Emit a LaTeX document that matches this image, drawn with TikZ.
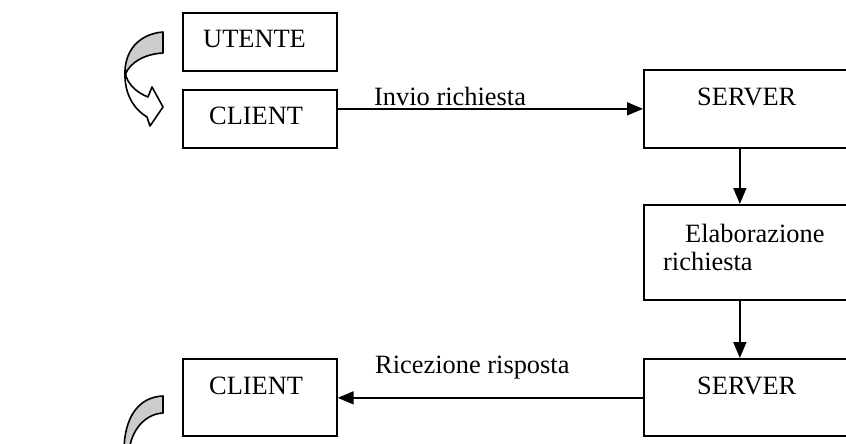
\documentclass[tikz,border=0pt]{standalone}
\usepackage{fontspec}
\setmainfont{Liberation Serif}
\usetikzlibrary{arrows.meta}
\begin{document}
\begin{tikzpicture}[x=1pt,y=-1pt,
  box/.style={draw,line width=1.7pt,anchor=north west,inner sep=0pt},
  lbl/.style={anchor=base west,inner sep=0pt,font=\fontsize{26.4}{30}\selectfont},
  conn/.style={line width=1.6pt,-{Triangle[length=16pt,width=13pt]}},
  bent/.style={line width=1.6pt,line join=round}]
\useasboundingbox (0,0) rectangle (846,444);
\clip (0,0) rectangle (846,444);
% boxes
\node[box,minimum width=154pt,minimum height=58pt] (utente) at (182,12) {};
\node[box,minimum width=154pt,minimum height=58pt] (client1) at (182,89) {};
\node[box,minimum width=217pt,minimum height=78pt] (server1) at (643,69) {};
\node[box,minimum width=217pt,minimum height=95pt] (elab) at (643,204) {};
\node[box,minimum width=217pt,minimum height=77pt] (server2) at (643,358) {};
\node[box,minimum width=154pt,minimum height=77pt] (client2) at (182,358) {};
% texts
\node[lbl] (tutente) at (203,48) {UTENTE};
\node[lbl] (tclient1) at (209,124) {CLIENT};
\node[lbl] (tserver1) at (697,106) {SERVER};
\node[lbl] (telab1) at (685,242) {Elaborazione};
\node[lbl] (telab2) at (663,270) {richiesta};
\node[lbl] (tserver2) at (697,394) {SERVER};
\node[lbl] (tclient2) at (209,394) {CLIENT};
\node[lbl] (tinvio) at (374,105) {Invio richiesta};
\node[lbl] (tricez) at (375,373) {Ricezione risposta};
% connectors
\draw[conn] (client1.east |- server1.west) -- (server1.west);
\draw[conn] ([xshift=-12.5pt]server1.south) -- ([xshift=-12.5pt]elab.north);
\draw[conn] ([xshift=-12.5pt]elab.south) -- ([xshift=-12.5pt]server2.north);
\draw[conn] ([yshift=-0.5pt]server2.west) -- ([yshift=-0.5pt]client2.east);
% curved arrow top
\draw[bent,fill=black!20] (163,32) .. controls (138,34) and (124,52) .. (125,75)
  .. controls (130,62) and (145,54) .. (163,53) -- cycle;
\draw[bent,fill=white] (125,72) .. controls (124,95) and (135,110) .. (147,117)
  -- (150,126) -- (163,107) -- (152,87) -- (148,97)
  .. controls (138,93) and (127,85) .. (125,72) -- cycle;
% curved arrow bottom (cut off)
\draw[bent,fill=black!20] (163,396) .. controls (140,397) and (124,415) .. (124,452)
  -- (129,452) .. controls (131,430) and (145,414) .. (163,413) -- cycle;
\end{tikzpicture}
\end{document}
